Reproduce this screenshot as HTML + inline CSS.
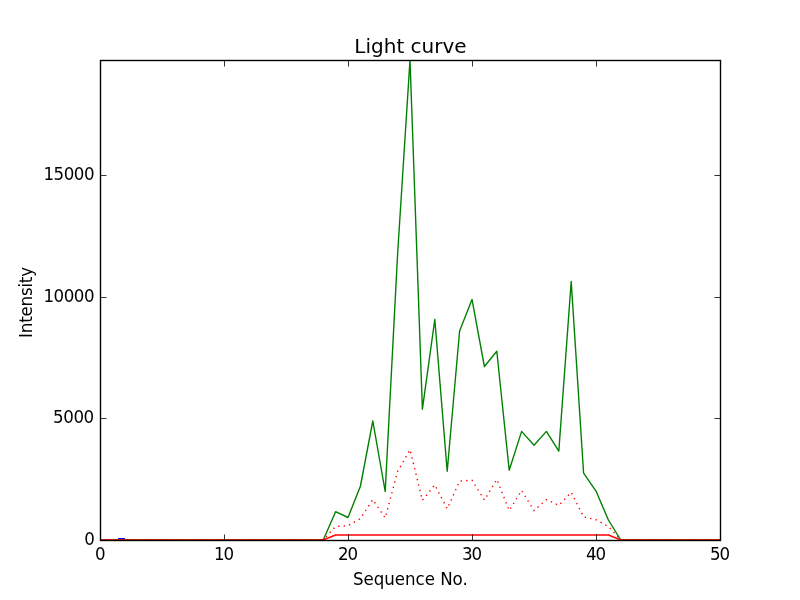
<!DOCTYPE html>
<html><head><meta charset="utf-8"><title>Light curve</title>
<style>
html,body{margin:0;padding:0;background:#fff;}
body{width:800px;height:600px;overflow:hidden;}
svg{display:block;}
text{font-family:"DejaVu Sans","Liberation Sans",sans-serif;fill:#000;}
</style></head><body>
<svg width="800" height="600" viewBox="0 0 800 600">
<rect x="0" y="0" width="800" height="600" fill="#ffffff"/>
<defs><clipPath id="ax"><rect x="100" y="60" width="620" height="480"/></clipPath></defs>
<g clip-path="url(#ax)" fill="none" stroke-width="1.39" stroke-linejoin="round" stroke-linecap="butt">
<path d="M118 538.75 L125 538.75" stroke="#0000ff"/>
<path d="M100.00 540.00 L323.20 540.00 L335.60 511.70 L348.00 517.50 L360.40 486.25 L372.80 421.00 L385.20 491.50 L397.60 254.00 L410.00 60.00 L422.40 409.20 L434.80 319.50 L447.20 471.25 L459.60 331.00 L472.00 299.40 L484.40 366.50 L496.80 351.25 L509.20 470.30 L521.60 431.40 L534.00 445.20 L546.40 431.40 L558.80 451.20 L571.20 281.50 L583.60 473.20 L596.00 491.10 L608.40 520.00 L620.80 540.00 L720.00 540.00" stroke="#008000"/>
<path d="M100.00 540.00 L323.20 540.00 L335.60 535.00 L608.40 535.00 L620.80 540.00 L720.00 540.00" stroke="#ff0000"/>
<path d="M100.00 540.00 L323.20 540.00 L335.60 526.50 L348.00 525.70 L360.40 518.60 L372.80 499.60 L385.20 518.00 L397.60 471.50 L410.00 449.70 L422.40 500.30 L434.80 484.90 L447.20 508.80 L459.60 481.10 L472.00 480.10 L484.40 500.00 L496.80 479.40 L509.20 510.50 L521.60 490.40 L534.00 510.70 L546.40 499.60 L558.80 505.40 L571.20 492.30 L583.60 516.90 L596.00 519.70 L608.40 526.50 L620.80 540.00 L720.00 540.00" stroke="#ff0000" stroke-dasharray="1.39 4.17" stroke-dashoffset="0.6"/>
</g>
<g stroke="#000" stroke-width="0.8" fill="none">
<path d="M100.5 540 V534.44 M100.5 60 V66.5"/>
<path d="M224.5 540 V534.44 M224.5 60 V66.5"/>
<path d="M348.5 540 V534.44 M348.5 60 V66.5"/>
<path d="M472.5 540 V534.44 M472.5 60 V66.5"/>
<path d="M596.5 540 V534.44 M596.5 60 V66.5"/>
<path d="M720.5 540 V534.44 M720.5 60 V66.5"/>
<path d="M100 540.5 H106.5 M720 540.5 H714.44"/>
<path d="M100 418.5 H106.5 M720 418.5 H714.44"/>
<path d="M100 297.5 H106.5 M720 297.5 H714.44"/>
<path d="M100 175.5 H106.5 M720 175.5 H714.44"/>
</g>
<rect x="100.5" y="60.5" width="620" height="480" fill="none" stroke="#000" stroke-width="1.39"/>
<text transform="translate(99.75 559.70) scale(1 1.070)" font-size="16.67" text-anchor="middle" letter-spacing="-1.20">0</text>
<text transform="translate(223.40 559.70) scale(1 1.070)" font-size="16.67" text-anchor="middle" letter-spacing="-1.20">10</text>
<text transform="translate(347.40 559.70) scale(1 1.070)" font-size="16.67" text-anchor="middle" letter-spacing="-1.20">20</text>
<text transform="translate(471.40 559.70) scale(1 1.070)" font-size="16.67" text-anchor="middle" letter-spacing="-1.20">30</text>
<text transform="translate(595.40 559.70) scale(1 1.070)" font-size="16.67" text-anchor="middle" letter-spacing="-1.20">40</text>
<text transform="translate(719.40 559.70) scale(1 1.070)" font-size="16.67" text-anchor="middle" letter-spacing="-1.20">50</text>
<text transform="translate(94.30 544.70) scale(1 1.070)" font-size="16.67" text-anchor="end" letter-spacing="-0.45">0</text>
<text transform="translate(93.70 422.70) scale(1 1.070)" font-size="16.67" text-anchor="end" letter-spacing="-0.45">5000</text>
<text transform="translate(94.15 301.70) scale(1 1.070)" font-size="16.67" text-anchor="end" letter-spacing="-0.45">10000</text>
<text transform="translate(94.15 179.70) scale(1 1.070)" font-size="16.67" text-anchor="end" letter-spacing="-0.45">15000</text>
<text transform="translate(410.50 52.80) scale(1 1.000)" font-size="20.00" text-anchor="middle">Light curve</text>
<text transform="translate(410.40 585.30) scale(1 1.070)" font-size="16.67" text-anchor="middle" letter-spacing="-0.04">Sequence No.</text>
<text transform="translate(31.80 337.90) rotate(-90) scale(1 1.070)" font-size="16.67" text-anchor="start" letter-spacing="-0.20">Intensity</text>
</svg></body></html>
